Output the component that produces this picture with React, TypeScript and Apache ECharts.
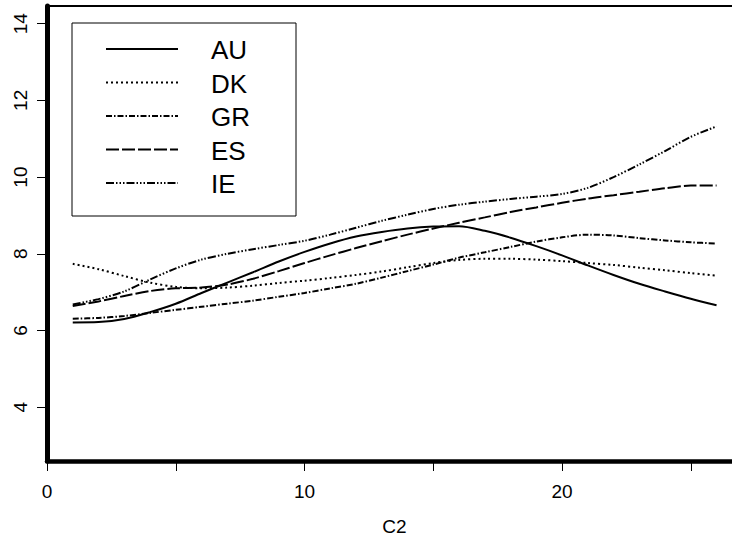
import React, { useEffect, useRef } from "react";
import * as echarts from "echarts";

const xs = [1, 2, 3, 4, 5, 6, 7, 8, 9, 10, 11, 12, 13, 14, 15, 16, 17, 18, 19, 20, 21, 22, 23, 24, 25, 26];
const AU = [6.21, 6.22, 6.3, 6.48, 6.7, 6.98, 7.25, 7.52, 7.8, 8.05, 8.27, 8.45, 8.57, 8.66, 8.71, 8.72, 8.6, 8.42, 8.2, 7.96, 7.7, 7.45, 7.22, 7.02, 6.83, 6.66];
const DK = [7.74, 7.6, 7.42, 7.25, 7.14, 7.1, 7.12, 7.17, 7.24, 7.3, 7.37, 7.45, 7.54, 7.65, 7.76, 7.84, 7.87, 7.87, 7.85, 7.81, 7.76, 7.71, 7.64, 7.57, 7.5, 7.43];
const GR = [6.31, 6.33, 6.38, 6.46, 6.54, 6.62, 6.7, 6.78, 6.88, 6.98, 7.1, 7.22, 7.38, 7.55, 7.72, 7.9, 8.04, 8.18, 8.32, 8.43, 8.5, 8.48, 8.41, 8.35, 8.3, 8.27];
const ES = [6.64, 6.76, 6.9, 7.03, 7.1, 7.12, 7.2, 7.35, 7.55, 7.76, 7.96, 8.15, 8.33, 8.5, 8.66, 8.81, 8.95, 9.09, 9.21, 9.33, 9.44, 9.53, 9.62, 9.71, 9.78, 9.78];
const IE = [6.68, 6.82, 7.02, 7.33, 7.62, 7.85, 8.0, 8.12, 8.23, 8.34, 8.5, 8.68, 8.86, 9.02, 9.17, 9.28, 9.36, 9.43, 9.49, 9.56, 9.72, 10.0, 10.33, 10.68, 11.05, 11.32];

const seriesNames = ["AU", "DK", "GR", "ES", "IE"];
const seriesValues = [AU, DK, GR, ES, IE];
const xTicks = [0, 5, 10, 15, 20, 25];
const xLabels = [0, 10, 20];
const yTicks = [4, 6, 8, 10, 12, 14];
const xName = "C2";

const dashes: (string | number[])[] = [
  "solid",
  [2, 3],
  [6, 2, 1.5, 2],
  [13, 3],
  [8, 2, 1.5, 2, 1.5, 2, 1.5, 2],
];

const FONT = "'Liberation Sans', Arial, Helvetica, sans-serif";

export default function App() {
  const ref = useRef<HTMLDivElement>(null);
  useEffect(() => {
    if (!ref.current) return;
    const chart = echarts.init(ref.current, undefined, { renderer: "svg" });

    const legendLeft = 72;
    const legendTop = 23;
    const rowStart = 49;
    const rowGap = 33.5;
    const legendChildren: any[] = [
      {
        type: "rect",
        shape: { x: legendLeft, y: legendTop, width: 224, height: 193 },
        style: { fill: "#fff", stroke: "#000", lineWidth: 1 },
      },
    ];
    seriesNames.forEach((n, i) => {
      const y = rowStart + i * rowGap;
      legendChildren.push({
        type: "line",
        shape: { x1: 106, y1: y, x2: 178, y2: y },
        style: {
          stroke: "#000",
          lineWidth: 2,
          lineDash: dashes[i] === "solid" ? null : (dashes[i] as number[]),
        },
      });
      legendChildren.push({
        type: "text",
        x: 211,
        y: y + 1,
        style: {
          text: n,
          fill: "#000",
          font: `26px ${FONT}`,
          verticalAlign: "middle",
          align: "left",
        },
      });
    });

    chart.setOption({
      animation: false,
      backgroundColor: "#fff",
      grid: { left: 47, right: 0, top: 6, bottom: 77, containLabel: false },
      xAxis: [
        {
          type: "value",
          min: 0,
          max: 26.6,
          name: xName,
          nameLocation: "middle",
          nameGap: 56,
          nameTextStyle: { fontSize: 19, color: "#000", fontFamily: FONT, padding: [0, 0, 0, 10] },
          axisLine: { show: true, onZero: false, lineStyle: { color: "#000", width: 4.5 } },
          axisTick: { show: true, length: 10, customValues: xTicks, lineStyle: { color: "#000", width: 1 } },
          axisLabel: { customValues: xLabels, fontSize: 19, color: "#000", fontFamily: FONT, margin: 21 },
          splitLine: { show: false },
        },
        {
          type: "value",
          position: "top",
          min: 0,
          max: 26.6,
          axisLine: { show: true, onZero: false, lineStyle: { color: "#000", width: 2 } },
          axisTick: { show: false },
          axisLabel: { show: false },
          splitLine: { show: false },
        },
      ],
      yAxis: {
        type: "value",
        min: 2.6,
        max: 14.46,
        axisLine: { show: true, onZero: false, lineStyle: { color: "#000", width: 5 } },
        axisTick: { show: true, length: 10, customValues: yTicks, lineStyle: { color: "#000", width: 1 } },
        axisLabel: { customValues: yTicks, rotate: 90, fontSize: 19, color: "#000", fontFamily: FONT, margin: 17 },
        splitLine: { show: false },
      },
      series: seriesNames.map((n, i) => ({
        name: n,
        type: "line",
        xAxisIndex: 0,
        smooth: 0.3,
        symbol: "none",
        data: xs.map((x, j) => [x, seriesValues[i][j]]),
        lineStyle: { color: "#000", width: 2, type: dashes[i] },
        z: 3,
      })),
      graphic: [{ type: "group", children: legendChildren, z: 10 }],
    });
    return () => chart.dispose();
  }, []);
  return <div ref={ref} style={{ width: 732, height: 541, position: "absolute", left: 0, top: 0 }} />;
}
